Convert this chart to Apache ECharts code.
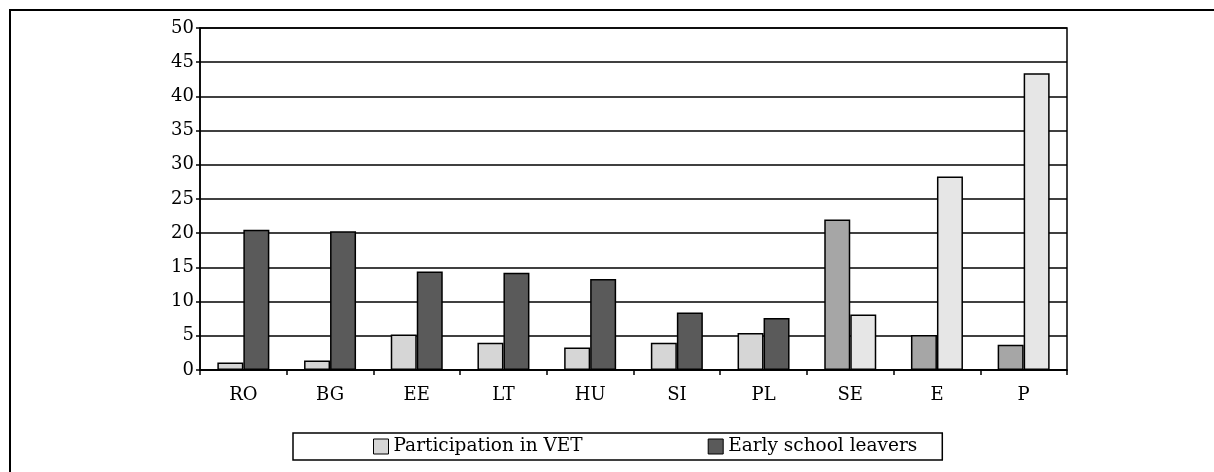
<!DOCTYPE html>
<html>
<head>
<meta charset="utf-8">
<script src="https://cdn.jsdelivr.net/npm/echarts@6/dist/echarts.min.js"></script>
<style>html,body{margin:0;padding:0;background:#fff;}#c{width:1214px;height:472px;}</style>
</head>
<body>
<div id="c"></div>
<script>
const categories = ['RO','BG','EE','LT','HU','SI','PL','SE','E','P'];
const participationVET = [1.1, 1.4, 5.2, 4.0, 3.3, 4.0, 5.4, 22.0, 5.1, 3.7];
const earlySchoolLeavers = [20.5, 20.3, 14.4, 14.2, 13.3, 8.4, 7.6, 8.1, 28.3, 43.4];
const yTicks = [0,5,10,15,20,25,30,35,40,45,50];

const FONT = '"DejaVu Serif", "Liberation Serif", serif';
const LIGHT = '#d6d6d6', DARK = '#5a5a5a', MID = '#a6a6a6', PALE = '#e6e6e6';

const chart = echarts.init(document.getElementById('c'));
chart.setOption({
  animation: false,
  backgroundColor: '#fff',
  graphic: [{
    type: 'rect', shape: {x: 10, y: 10, width: 1400, height: 700},
    style: {fill: 'none', stroke: '#000', lineWidth: 2}, silent: true
  }],
  grid: {left: 200, right: 147, top: 28, bottom: 102, show: true, borderColor: '#000', borderWidth: 1.5},
  legend: {
    left: 293, top: 433, itemGap: 125, itemWidth: 15, itemHeight: 15, icon: 'rect',
    borderColor: '#000', borderWidth: 1.5, padding: [4, 25, 4, 80],
    textStyle: {fontFamily: FONT, fontSize: 18.5, color: '#000'},
    data: [
      {name: 'Participation in VET', itemStyle: {color: LIGHT, borderColor: '#000', borderWidth: 1}},
      {name: 'Early school leavers', itemStyle: {color: DARK, borderColor: '#000', borderWidth: 1}}
    ]
  },
  xAxis: {
    type: 'category', data: categories,
    axisLine: {lineStyle: {color: '#000', width: 1.5}},
    axisTick: {show: true, length: 5, lineStyle: {color: '#000', width: 1.5}},
    axisLabel: {fontFamily: FONT, fontSize: 18, color: '#000', margin: 16}
  },
  yAxis: {
    type: 'value', min: yTicks[0], max: yTicks[yTicks.length-1], interval: 5,
    axisLine: {show: true, lineStyle: {color: '#000', width: 1.5}},
    axisTick: {show: true, length: 4, lineStyle: {color: '#000', width: 1.5}},
    axisLabel: {fontFamily: FONT, fontSize: 18, color: '#000', margin: 6},
    splitLine: {lineStyle: {color: '#000', width: 1.5}}
  },
  series: [
    {
      name: 'Participation in VET', type: 'bar', data: participationVET, barWidth: 26, barGap: '0%',
      itemStyle: {color: p => p.dataIndex >= 7 ? MID : LIGHT, borderColor: '#000', borderWidth: 1.5}
    },
    {
      name: 'Early school leavers', type: 'bar', data: earlySchoolLeavers, barWidth: 26,
      itemStyle: {color: p => p.dataIndex >= 7 ? PALE : DARK, borderColor: '#000', borderWidth: 1.5}
    }
  ]
});
</script>
</body>
</html>
